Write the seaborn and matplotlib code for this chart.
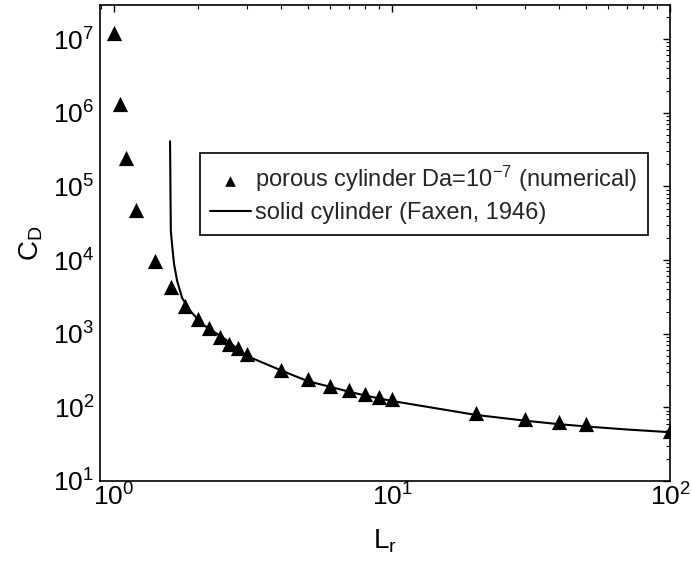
import matplotlib
matplotlib.use("Agg")
import matplotlib.pyplot as plt
import seaborn as sns
import numpy as np
import pandas as pd

# numerical porous cylinder data
lr_num = [1.0, 1.05, 1.1, 1.2, 1.4, 1.6, 1.8, 2.0, 2.2, 2.4, 2.6, 2.8, 3.0,
          4.0, 5.0, 6.0, 7.0, 8.0, 9.0, 10.0, 20.0, 30.0, 40.0, 50.0, 100.0]
cd_num = [1.2e7, 1.3e6, 2.4e5, 4.8e4, 9.7e3, 4.3e3, 2.39e3, 1.6e3, 1.2e3, 911, 733, 647, 537,
          326, 239, 192, 170, 152, 139, 128, 83, 69, 63, 59, 47]

# Faxen solid cylinder curve
lr_fax = [1.59, 1.60, 1.613, 1.626, 1.644, 1.686, 1.757, 1.877, 2.07, 2.5, 3.0, 4.0, 5.0,
          6.0, 7.0, 8.0, 9.0, 10.0, 20.0, 30.0, 40.0, 50.0, 70.0, 100.0]
cd_fax = [4.1e5, 2.5e4, 1.8e4, 1.3e4, 8.8e3, 5.2e3, 3.06e3, 2.05e3, 1.36e3, 850, 500, 316, 225,
          190, 163, 145, 132, 122, 79, 66, 59, 55, 50, 46]

label_num = "porous cylinder Da=10$^{\\mathregular{-7}}$ (numerical)"
label_fax = "solid cylinder (Faxen, 1946)"

sns.set_theme(style="white")
plt.rcParams["font.family"] = ["Liberation Sans", "DejaVu Sans"]
plt.rcParams["mathtext.fontset"] = "custom"
plt.rcParams["mathtext.rm"] = "Liberation Sans"
plt.rcParams["mathtext.it"] = "Liberation Sans:italic"
plt.rcParams["mathtext.bf"] = "Liberation Sans:bold"

fig = plt.figure(figsize=(6.92, 5.63), dpi=100)
ax = fig.add_axes([100 / 692, 1 - 481 / 563, 570 / 692, 476 / 563])

df_num = pd.DataFrame({"Lr": lr_num, "CD": cd_num})
df_fax = pd.DataFrame({"Lr": lr_fax, "CD": cd_fax})

sns.lineplot(data=df_fax, x="Lr", y="CD", ax=ax, color="black", linewidth=1.5,
             sort=False, label=label_fax, estimator=None)
sns.scatterplot(data=df_num, x="Lr", y="CD", ax=ax, marker="^", color="black",
                s=120, edgecolor="black", linewidth=0, label=label_num, zorder=3)

ax.set_xscale("log")
ax.set_yscale("log")
ax.set_xlim(0.89, 100)
ax.set_ylim(10, 2.9e7)

ax.set_xticks([1, 10, 100])
ax.set_yticks([1e1, 1e2, 1e3, 1e4, 1e5, 1e6, 1e7])
ax.yaxis.set_minor_locator(matplotlib.ticker.LogLocator(base=10, subs=np.arange(2, 10), numticks=20))
ax.xaxis.set_minor_locator(matplotlib.ticker.LogLocator(base=10, subs=np.arange(2, 10), numticks=20))
ax.yaxis.set_minor_formatter(matplotlib.ticker.NullFormatter())
ax.xaxis.set_minor_formatter(matplotlib.ticker.NullFormatter())

ax.tick_params(which="both", direction="in", top=True, right=True, colors="black",
               labelsize=19)
ax.tick_params(which="major", length=5, width=1)
ax.tick_params(which="minor", length=3, width=0.8)
ax.tick_params(axis="x", which="major", pad=2)
ax.tick_params(axis="y", which="major", pad=4)
for sp in ax.spines.values():
    sp.set_color("black")
    sp.set_linewidth(1.2)

ax.set_xlabel("L$_\\mathregular{r}$", fontsize=20, color="black", labelpad=12)
ax.set_ylabel("C$_\\mathregular{D}$", fontsize=20, color="black", labelpad=6)

handles, labels = ax.get_legend_handles_labels()
order = [labels.index(label_num), labels.index(label_fax)]
leg = ax.legend([handles[i] for i in order], [labels[i] for i in order],
                loc="upper left", bbox_to_anchor=(0.175, 0.689), fontsize=17,
                frameon=True, fancybox=False, edgecolor="black", framealpha=1,
                borderpad=0.45, handlelength=1.7, handletextpad=0.2, labelspacing=0.35,
                borderaxespad=0, markerscale=0.7)
leg.get_frame().set_linewidth(1.2)

fig.savefig("out.png", dpi=100)
